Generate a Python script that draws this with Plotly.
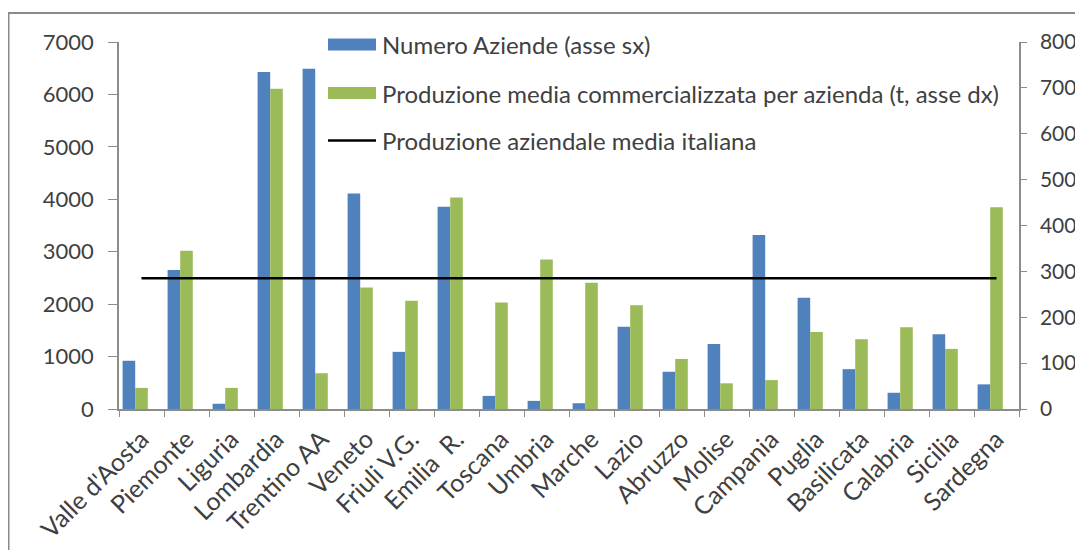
import plotly.graph_objects as go

regions = ["Valle d'Aosta", "Piemonte", "Liguria", "Lombardia", "Trentino AA", "Veneto",
           "Friuli V.G.", "Emilia  R.", "Toscana", "Umbria", "Marche", "Lazio", "Abruzzo",
           "Molise", "Campania", "Puglia", "Basilicata", "Calabria", "Sicilia", "Sardegna"]
numero_aziende = [920, 2650, 100, 6430, 6490, 4110, 1090, 3860, 250, 155, 110, 1570, 710,
                  1240, 3320, 2120, 760, 310, 1425, 470]
produzione_media = [46, 345, 46, 698, 78, 265, 236, 461, 232, 326, 275, 226, 109, 56, 63,
                    168, 152, 178, 131, 440]
media_italiana = 285

BLUE = "#4F81BD"
GREEN = "#9BBB59"
AXIS = "#8C8C8C"
TXT = "#404040"
FONT = "Lato"

# the page body has an 8px margin on every side, so the figure is drawn smaller and
# the coordinates below are page pixels minus 8
OFF = 8
W, H = 1083 - 2 * OFF, 558 - 2 * OFF
L, R, T, B = 119 - OFF, 1019 - OFF, 42 - OFF, 409 - OFF

fig = go.Figure()
fig.add_trace(go.Bar(x=regions, y=numero_aziende, name="Numero Aziende (asse sx)",
                     marker=dict(color=BLUE, line=dict(width=0)),
                     width=0.28, offset=-0.42, yaxis="y"))
fig.add_trace(go.Bar(x=regions, y=produzione_media,
                     name="Produzione media commercializzata per azienda (t, asse dx)",
                     marker=dict(color=GREEN, line=dict(width=0)),
                     width=0.28, offset=-0.14, yaxis="y2"))
fig.add_trace(go.Scatter(x=regions, y=[media_italiana] * len(regions), mode="lines",
                         name="Produzione aziendale media italiana",
                         line=dict(color="black", width=2.5), yaxis="y2"))


def px(xp):
    return (xp - OFF - L) / (R - L)


def py(yp):
    return (B - (yp - OFF)) / (B - T)


shapes = [
    dict(type="rect", xref="paper", yref="paper", x0=px(8.5), x1=px(1100), y0=py(600), y1=py(13),
         line=dict(color="#8A8A8A", width=2), fillcolor="rgba(0,0,0,0)", layer="below"),
    dict(type="rect", xref="paper", yref="paper", x0=px(328), x1=px(376), y0=py(50.5), y1=py(38.5),
         line=dict(width=0), fillcolor=BLUE),
    dict(type="rect", xref="paper", yref="paper", x0=px(328), x1=px(376), y0=py(99), y1=py(87),
         line=dict(width=0), fillcolor=GREEN),
    dict(type="line", xref="paper", yref="paper", x0=px(328), x1=px(376), y0=py(140.5), y1=py(140.5),
         line=dict(color="black", width=2.5)),
]
legend_items = [("Numero Aziende (asse sx)", 44.5),
                ("Produzione media commercializzata per azienda (t, asse dx)", 93),
                ("Produzione aziendale media italiana", 140.5)]
annotations = [dict(text=t, xref="paper", yref="paper", x=px(380), y=py(yc), xanchor="left",
                    yanchor="middle", showarrow=False, font=dict(family=FONT, size=24, color=TXT))
               for t, yc in legend_items]

fig.update_layout(
    width=W, height=H,
    margin=dict(l=L, r=W - R, t=T, b=H - B, autoexpand=False),
    paper_bgcolor="white", plot_bgcolor="white",
    barmode="overlay", showlegend=False,
    font=dict(family=FONT, size=22, color=TXT),
    shapes=shapes, annotations=annotations,
    xaxis=dict(type="category", showgrid=False, showline=True, linecolor=AXIS, linewidth=1.5,
               ticks="outside", tickson="boundaries", ticklen=6, tickcolor=AXIS,
               tickangle=-45, automargin=False, ticklabelstandoff=4,
               tickfont=dict(family=FONT, size=25, color=TXT)),
    yaxis=dict(range=[0, 7000], dtick=1000, showgrid=False, showline=True, linecolor=AXIS,
               linewidth=1.5, ticks="outside", ticklen=9, tickcolor=AXIS, zeroline=False,
               automargin=False, ticklabelstandoff=10,
               tickfont=dict(family=FONT, size=22, color=TXT)),
    yaxis2=dict(range=[0, 800], dtick=100, overlaying="y", side="right", showgrid=False,
                showline=True, linecolor=AXIS, linewidth=1.5, ticks="outside", ticklen=6,
                tickcolor=AXIS, zeroline=False, automargin=False, ticklabelstandoff=9,
                tickfont=dict(family=FONT, size=21, color=TXT)),
)

fig.write_html("out.html")
